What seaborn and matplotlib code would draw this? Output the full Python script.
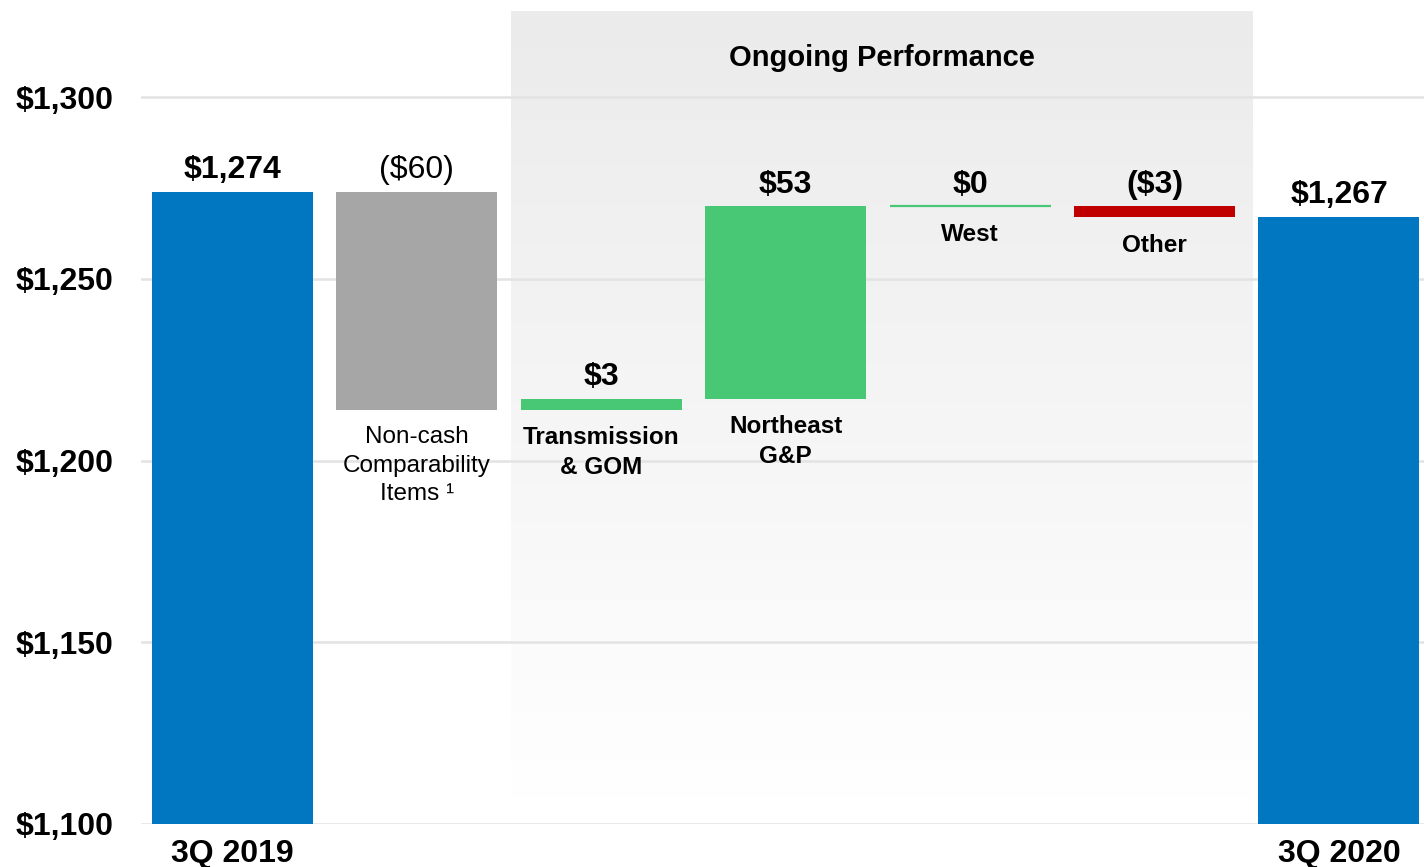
import numpy as np
import pandas as pd
import matplotlib
matplotlib.use("Agg")
import matplotlib.pyplot as plt
import seaborn as sns

# Bridge from 3Q 2019 to 3Q 2020 (values in $ millions)
steps = ["3Q 2019", "Non-cash\nComparability\nItems \u00b9", "Transmission\n& GOM",
         "Northeast\nG&P", "West", "Other", "3Q 2020"]
start_total = 1274
changes = [-60, 3, 53, 0, -3]
end_total = 1267
value_labels = ["$1,274", "($60)", "$3", "$53", "$0", "($3)", "$1,267"]
bar_colors = ["#0077C0", "#A6A6A6", "#48C774", "#48C774", "#48C774", "#C00000", "#0077C0"]
y_ticks = [1100, 1150, 1200, 1250, 1300]
tick_labels = ["$1,100", "$1,150", "$1,200", "$1,250", "$1,300"]
section_title = "Ongoing Performance"

# floating bar extents
bottoms = [0]
tops = [start_total]
level = start_total
for c in changes:
    bottoms.append(min(level, level + c))
    tops.append(max(level, level + c))
    level += c
bottoms.append(0)
tops.append(end_total)

df = pd.DataFrame({"step": steps, "top": tops, "bottom": bottoms})

sns.set_style("white")
plt.rcParams["font.family"] = ["Liberation Sans", "DejaVu Sans"]
plt.rcParams["text.color"] = "black"
plt.rcParams["xtick.color"] = "black"
plt.rcParams["ytick.color"] = "black"
plt.rcParams["axes.labelcolor"] = "black"

fig = plt.figure(figsize=(14.24, 8.67), dpi=100)
ax = fig.add_axes([141 / 1424, 1 - 824 / 867, (1424 - 141) / 1424, 824 / 867])

bar_w = 0.873
sns.barplot(data=df, x="step", y="top", color=bar_colors[0], width=bar_w,
            ax=ax, zorder=3, linewidth=0)

for patch, b, t, col in zip(ax.patches, bottoms, tops, bar_colors):
    patch.set_y(b)
    patch.set_height(t - b)
    patch.set_facecolor(col)
    if t == b:
        patch.set_edgecolor(col)
        patch.set_linewidth(1.6)

# shaded panel behind the ongoing-performance steps
grad = np.linspace(0.922, 1.0, 256).reshape(-1, 1)
ax.imshow(np.dstack([grad, grad, grad]), extent=[1.51, 5.53, 1106.6, 1323.4],
          aspect="auto", zorder=0, origin="upper", interpolation="bilinear")

ax.set_xlim(-0.496, 6.461)
ax.set_ylim(1100, 1326.7)

for yv in y_ticks:
    ax.axhline(yv, color="#E3E3E3", lw=1.8, zorder=1)

ax.set_yticks(y_ticks)
ax.set_yticklabels(tick_labels, fontsize=23, fontweight="bold")
ax.tick_params(axis="y", length=0, pad=20)

ax.set_xticks(range(len(steps)))
ax.set_xticklabels([steps[0]] + [""] * (len(steps) - 2) + [steps[-1]],
                   fontsize=23, fontweight="bold")
ax.tick_params(axis="x", length=0, pad=11)
ax.set_xlabel("")
ax.set_ylabel("")
for s in ax.spines.values():
    s.set_visible(False)

# value labels above each bar
for i, (lab, t) in enumerate(zip(value_labels, tops)):
    ax.annotate(lab, xy=(i, t), xytext=(0, 15.5), textcoords="offset points",
                ha="center", va="center", fontsize=23,
                fontweight="normal" if i == 1 else "bold", zorder=5)

# step names below the floating bars
for i in range(1, len(steps) - 1):
    ax.annotate(steps[i], xy=(i, bottoms[i]), xytext=(0, -12), textcoords="offset points",
                ha="center", va="top", fontsize=17.5, linespacing=1.38,
                fontweight="normal" if i == 1 else "bold", zorder=5)

ax.text(3.522, 1310.7, section_title, ha="center", va="center",
        fontsize=21, fontweight="bold", zorder=5)

fig.savefig("out.png", dpi=100)
